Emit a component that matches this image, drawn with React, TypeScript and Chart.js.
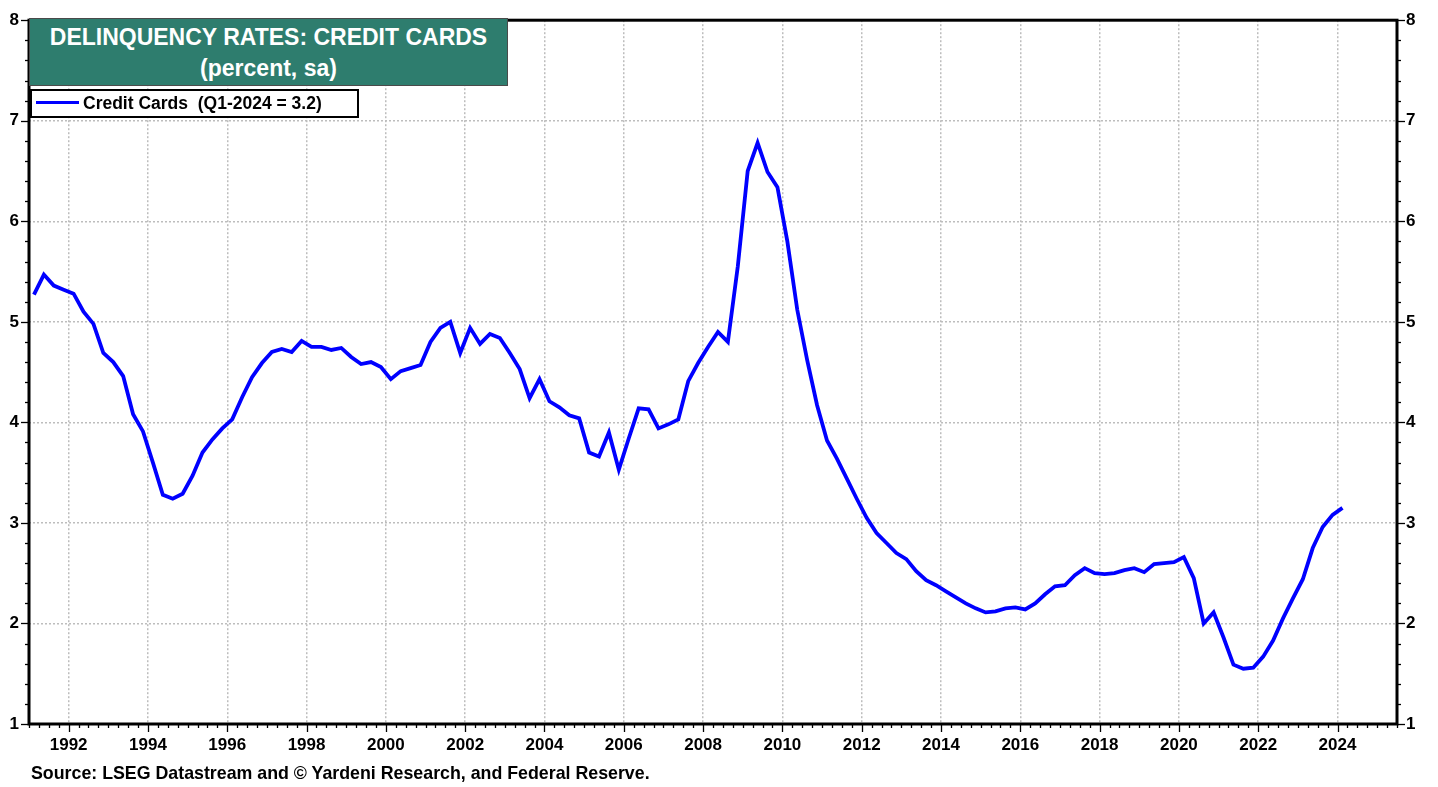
import React, { useEffect, useRef } from "react";
import { Chart, registerables } from "chart.js";

Chart.register(...registerables);

// Quarterly credit card delinquency rate, 1991Q1 .. 2024Q1 (percent, sa)
const START_YEAR = 1991;
const rates: number[] = [
  5.27, 5.47, 5.36, 5.32, // 1991
  5.28, 5.10, 4.98, 4.69, // 1992
  4.60, 4.46, 4.08, 3.91, // 1993
  3.60, 3.28, 3.24, 3.29, // 1994
  3.47, 3.70, 3.83, 3.94, // 1995
  4.03, 4.25, 4.45, 4.59, // 1996
  4.70, 4.73, 4.70, 4.81, // 1997
  4.75, 4.75, 4.72, 4.74, // 1998
  4.65, 4.58, 4.60, 4.55, // 1999
  4.43, 4.51, 4.54, 4.57, // 2000
  4.80, 4.94, 5.00, 4.69, // 2001
  4.94, 4.78, 4.88, 4.84, // 2002
  4.69, 4.53, 4.24, 4.43, // 2003
  4.21, 4.15, 4.07, 4.04, // 2004
  3.70, 3.66, 3.90, 3.53, // 2005
  3.84, 4.14, 4.13, 3.94, // 2006
  3.98, 4.03, 4.41, 4.59, // 2007
  4.75, 4.90, 4.80, 5.55, // 2008
  6.50, 6.78, 6.49, 6.34, // 2009
  5.80, 5.12, 4.62, 4.17, // 2010
  3.82, 3.64, 3.44, 3.24, // 2011
  3.05, 2.90, 2.80, 2.70, // 2012
  2.64, 2.52, 2.43, 2.38, // 2013
  2.32, 2.26, 2.20, 2.15, // 2014
  2.11, 2.12, 2.15, 2.16, // 2015
  2.14, 2.20, 2.29, 2.37, // 2016
  2.38, 2.48, 2.55, 2.50, // 2017
  2.49, 2.50, 2.53, 2.55, // 2018
  2.51, 2.59, 2.60, 2.61, // 2019
  2.66, 2.45, 2.00, 2.11, // 2020
  1.86, 1.59, 1.55, 1.56, // 2021
  1.67, 1.83, 2.05, 2.25, // 2022
  2.44, 2.75, 2.96, 3.08, // 2023
  3.15,                   // 2024
];

const xTickYears: number[] = [1992, 1994, 1996, 1998, 2000, 2002, 2004, 2006, 2008, 2010, 2012, 2014, 2016, 2018, 2020, 2022, 2024];
const yTicks: number[] = [1, 2, 3, 4, 5, 6, 7, 8];
const X_MIN = 1991;
const X_MAX = 2025.5;
const Y_MIN = 1;
const Y_MAX = 8;

const TITLE_LINE1 = "DELINQUENCY RATES: CREDIT CARDS";
const TITLE_LINE2 = "(percent, sa)";
const LEGEND_LABEL = "Credit Cards  (Q1-2024 = 3.2)";
const SOURCE = "Source: LSEG Datastream and \u00A9 Yardeni Research, and Federal Reserve.";

const FONT = '"Liberation Sans", Arial, sans-serif';

const framePlugin = {
  id: "frameTicks",
  afterDraw(chart: any) {
    const { ctx, chartArea: a, scales } = chart;
    const x = scales.x;
    const y = scales.y;
    ctx.save();
    ctx.strokeStyle = "#000";
    ctx.lineWidth = 1.3;
    const line = (x1: number, y1: number, x2: number, y2: number) => {
      ctx.beginPath();
      ctx.moveTo(x1, y1);
      ctx.lineTo(x2, y2);
      ctx.stroke();
    };
    for (let q = Math.ceil(X_MIN * 4); q <= Math.floor(X_MAX * 4); q++) {
      const v = q / 4;
      const px = Math.round(x.getPixelForValue(v)) + 0.5;
      const len = v % 2 === 0 ? 8 : 4;
      line(px, a.bottom, px, a.bottom + len);
    }
    for (let k = Y_MIN * 5; k <= Y_MAX * 5; k++) {
      const v = k / 5;
      const py = Math.round(y.getPixelForValue(v)) + 0.5;
      const len = k % 5 === 0 ? 8 : 4;
      line(a.left - len, py, a.left, py);
      line(a.right, py, a.right + len, py);
    }
    ctx.lineWidth = 3;
    ctx.strokeRect(a.left, a.top, a.right - a.left, a.bottom - a.top);
    ctx.restore();
  },
};

export default function App() {
  const canvasRef = useRef<HTMLCanvasElement | null>(null);

  useEffect(() => {
    if (!canvasRef.current) return;
    const points = rates.map((v, i) => ({ x: START_YEAR + i / 4 + 0.125, y: v }));
    const gridColor = "#bdbdbd";
    const chart = new Chart(canvasRef.current, {
      type: "line",
      data: {
        datasets: [
          {
            label: LEGEND_LABEL,
            data: points,
            borderColor: "#0000ff",
            borderWidth: 3.8,
            pointRadius: 0,
            tension: 0,
            fill: false,
          },
        ],
      },
      options: {
        animation: false,
        responsive: false,
        maintainAspectRatio: false,
        layout: { padding: { top: 15, left: 0, right: 0, bottom: 0 } },
        plugins: {
          legend: { display: false },
          tooltip: { enabled: false },
          title: { display: false },
        },
        scales: {
          x: {
            type: "linear",
            min: X_MIN,
            max: X_MAX,
            afterBuildTicks: (scale: any) => {
              scale.ticks = xTickYears.map((v) => ({ value: v }));
            },
            afterFit: (scale: any) => {
              scale.height = 63;
            },
            ticks: {
              autoSkip: false,
              maxRotation: 0,
              padding: 11,
              color: "#000",
              font: { family: FONT, size: 17, weight: "bold" },
              callback: (v: any) => String(v),
            },
            grid: {
              display: true,
              drawTicks: false,
              color: gridColor,
              lineWidth: 1.5,
            },
            border: { display: false, dash: [2, 2] },
          },
          y: {
            type: "linear",
            position: "left",
            min: Y_MIN,
            max: Y_MAX,
            afterBuildTicks: (scale: any) => {
              scale.ticks = yTicks.map((v) => ({ value: v }));
            },
            afterFit: (scale: any) => {
              scale.width = 29;
            },
            ticks: {
              padding: 10,
              color: "#000",
              font: { family: FONT, size: 17, weight: "bold" },
            },
            grid: {
              display: true,
              drawTicks: false,
              color: gridColor,
              lineWidth: 1.5,
            },
            border: { display: false, dash: [2, 2] },
          },
          y2: {
            type: "linear",
            position: "right",
            min: Y_MIN,
            max: Y_MAX,
            afterBuildTicks: (scale: any) => {
              scale.ticks = yTicks.map((v) => ({ value: v }));
            },
            afterFit: (scale: any) => {
              scale.width = 41;
            },
            ticks: {
              padding: 9,
              color: "#000",
              font: { family: FONT, size: 17, weight: "bold" },
            },
            grid: { display: false, drawTicks: false },
            border: { display: false },
          },
        },
      },
      plugins: [framePlugin],
    } as any);
    return () => chart.destroy();
  }, []);

  return (
    <div style={{ position: "fixed", left: 0, top: 0, width: 1438, height: 787, background: "#fff", fontFamily: FONT }}>
      <canvas ref={canvasRef} width={1438} height={787} style={{ position: "absolute", left: 0, top: 0, width: 1438, height: 787 }} />
      <div
        style={{
          position: "absolute",
          left: 29,
          top: 18,
          width: 479,
          height: 68,
          boxSizing: "border-box",
          background: "#2e7d6e",
          border: "1px solid #4a4a4a",
          color: "#fff",
          fontWeight: "bold",
          fontSize: 23,
          lineHeight: "31px",
          paddingTop: 3,
          textAlign: "center",
        }}
      >
        <div>{TITLE_LINE1}</div>
        <div>{TITLE_LINE2}</div>
      </div>
      <div
        style={{
          position: "absolute",
          left: 30,
          top: 89,
          width: 329,
          height: 29,
          boxSizing: "border-box",
          background: "#fff",
          border: "2px solid #000",
        }}
      >
        <div style={{ position: "absolute", left: 4, top: 10, width: 43, height: 3, background: "#0000ff" }} />
        <div
          style={{
            position: "absolute",
            left: 51,
            top: 0,
            height: 25,
            lineHeight: "25px",
            fontWeight: "bold",
            fontSize: 17.5,
            color: "#000",
            whiteSpace: "pre",
          }}
        >
          {LEGEND_LABEL}
        </div>
      </div>
      <div
        style={{
          position: "absolute",
          left: 31,
          top: 763,
          fontWeight: "bold",
          fontSize: 17.8,
          lineHeight: "20px",
          color: "#000",
          whiteSpace: "pre",
        }}
      >
        {SOURCE}
      </div>
    </div>
  );
}
